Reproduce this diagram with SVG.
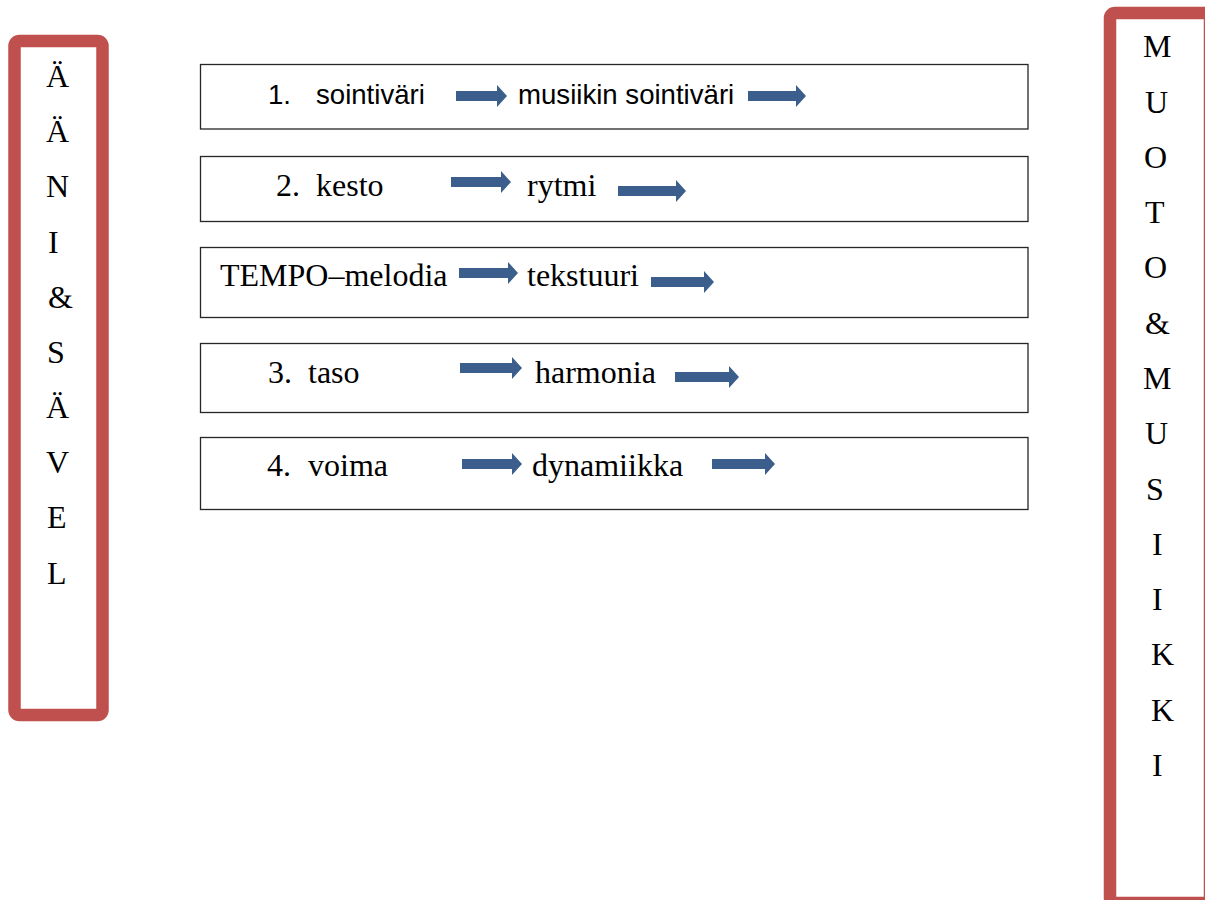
<svg xmlns="http://www.w3.org/2000/svg" width="1205" height="900" viewBox="0 0 1205 900">
<style>
.frame{fill:#fff;stroke:#C0504D;stroke-width:12.5}
.row{fill:#fff;stroke:#262626;stroke-width:1.3}
.serif{font-family:"Liberation Serif","Times New Roman",serif;font-size:32px;fill:#000}
.sans{font-family:"Liberation Sans",Arial,sans-serif;font-size:27.6px;fill:#000}
.arr{fill:#3B5E8C}
</style>
<rect x="0" y="0" width="1205" height="900" fill="#fff"/>
<g id="left-frame">
<rect class="frame" x="14.5" y="41" width="88" height="674" rx="5"/>
<g class="serif">
<text x="46" y="87">Ä</text>
<text x="46" y="142">Ä</text>
<text x="46" y="197">N</text>
<text x="48" y="253">I</text>
<text x="48" y="308">&amp;</text>
<text x="47" y="363">S</text>
<text x="46" y="418">Ä</text>
<text x="46" y="473">V</text>
<text x="47" y="528">E</text>
<text x="47" y="584">L</text>
</g>
</g>
<g id="right-frame">
<rect class="frame" x="1110" y="13" width="100" height="890" rx="5"/>
<g class="serif">
<text x="1143" y="57">M</text>
<text x="1145" y="113">U</text>
<text x="1144" y="168">O</text>
<text x="1145" y="223">T</text>
<text x="1144" y="278">O</text>
<text x="1145" y="334">&amp;</text>
<text x="1143" y="389">M</text>
<text x="1145" y="444">U</text>
<text x="1146" y="500">S</text>
<text x="1152" y="555">I</text>
<text x="1152" y="610">I</text>
<text x="1151" y="665">K</text>
<text x="1151" y="721">K</text>
<text x="1152" y="776">I</text>
</g>
</g>
<g id="row1">
<rect class="row" x="200.5" y="64.5" width="827.5" height="64.5"/>
<text class="sans" x="268" y="104">1.</text>
<text class="sans" x="316" y="104">sointiväri</text>
<text class="sans" x="518" y="104">musiikin sointiväri</text>
</g>
<g id="row2">
<rect class="row" x="200.5" y="156.5" width="827.5" height="65"/>
<text class="serif" x="276" y="196">2.</text>
<text class="serif" x="316" y="196">kesto</text>
<text class="serif" x="527" y="196">rytmi</text>
</g>
<g id="row3">
<rect class="row" x="200.5" y="247.5" width="827.5" height="70"/>
<text class="serif" x="220" y="286">TEMPO–melodia</text>
<text class="serif" x="527" y="286">tekstuuri</text>
</g>
<g id="row4">
<rect class="row" x="200.5" y="343.5" width="827.5" height="69"/>
<text class="serif" x="268" y="383">3.</text>
<text class="serif" x="308" y="383">taso</text>
<text class="serif" x="535" y="383">harmonia</text>
</g>
<g id="row5">
<rect class="row" x="200.5" y="437.5" width="827.5" height="72"/>
<text class="serif" x="267" y="476">4.</text>
<text class="serif" x="308" y="476">voima</text>
<text class="serif" x="532" y="476">dynamiikka</text>
</g>
<g id="connectors" class="arr">
<polygon points="456,91 497,91 497,85 507,96 497,107 497,101 456,101"/>
<polygon points="748,91 796,91 796,85 806,96 796,107 796,101 748,101"/>
<polygon points="451,177 501,177 501,171 511,182 501,193 501,187 451,187"/>
<polygon points="618,186 676,186 676,180 686,191 676,202 676,196 618,196"/>
<polygon points="459,268 508,268 508,262 518,273 508,284 508,278 459,278"/>
<polygon points="651,277 704,277 704,271 714,282 704,293 704,287 651,287"/>
<polygon points="460,363 512,363 512,357 522,368 512,379 512,373 460,373"/>
<polygon points="675,372 729,372 729,366 739,377 729,388 729,382 675,382"/>
<polygon points="462,459 512,459 512,453 522,464 512,475 512,469 462,469"/>
<polygon points="712,459 765,459 765,453 775,464 765,475 765,469 712,469"/>
</g>
</svg>
